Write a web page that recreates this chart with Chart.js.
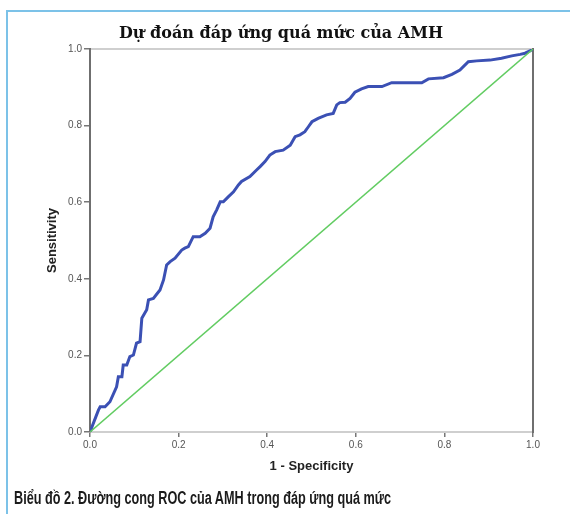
<!DOCTYPE html>
<html>
<head>
<meta charset="utf-8">
<script src="https://cdn.jsdelivr.net/npm/chart.js@4"></script>
<style>
  html, body { margin:0; padding:0; background:#fff; }
  body { width:570px; height:514px; position:relative; overflow:hidden; }
  #frame { position:absolute; left:6px; top:10px; right:-4px; bottom:-4px;
           border-left:2px solid #7cc2e8; border-top:2px solid #7cc2e8; }
  #c { position:absolute; left:0; top:0; }
  #caption { position:absolute; left:14px; top:489px; white-space:nowrap;
             font-family:"Liberation Sans Narrow","Liberation Sans",Arial,sans-serif;
             font-weight:bold; font-size:18px; line-height:18px; color:#1b1b1b;
             transform-origin:0 0; }
</style>
</head>
<body>
<div id="frame"></div>
<canvas id="c" width="570" height="514"></canvas>
<div id="caption">Biểu đồ 2. Đường cong ROC của AMH trong đáp ứng quá mức</div>
<script>
// ---- data ----
const titleText = "Dự đoán đáp ứng quá mức của AMH";
const xAxisTitle = "1 - Specificity";
const yAxisTitle = "Sensitivity";
const tickValues = [0, 0.2, 0.4, 0.6, 0.8, 1.0];
const tickLabels = ["0.0", "0.2", "0.4", "0.6", "0.8", "1.0"];

// ROC curve: 1 - specificity (x) and sensitivity (y)
const fpr = [0, 0.019, 0.023, 0.034, 0.045, 0.060, 0.064, 0.072, 0.075, 0.083, 0.090, 0.098, 0.105, 0.113, 0.117, 0.128, 0.132, 0.143, 0.158, 0.166, 0.173, 0.181, 0.192, 0.207, 0.214, 0.222, 0.233, 0.248, 0.260, 0.271, 0.278, 0.286, 0.294, 0.301, 0.312, 0.324, 0.335, 0.342, 0.361, 0.376, 0.384, 0.395, 0.406, 0.418, 0.436, 0.452, 0.463, 0.474, 0.485, 0.493, 0.501, 0.515, 0.534, 0.549, 0.557, 0.564, 0.576, 0.587, 0.598, 0.613, 0.628, 0.659, 0.681, 0.749, 0.764, 0.798, 0.817, 0.835, 0.854, 0.873, 0.903, 0.929, 0.952, 0.971, 0.982, 0.993, 1];
const tpr = [0, 0.057, 0.066, 0.066, 0.079, 0.118, 0.144, 0.144, 0.175, 0.175, 0.197, 0.201, 0.232, 0.236, 0.297, 0.319, 0.345, 0.349, 0.371, 0.397, 0.436, 0.445, 0.454, 0.475, 0.480, 0.484, 0.510, 0.510, 0.519, 0.532, 0.562, 0.580, 0.601, 0.601, 0.614, 0.627, 0.645, 0.654, 0.667, 0.684, 0.693, 0.706, 0.723, 0.732, 0.736, 0.749, 0.771, 0.776, 0.784, 0.797, 0.810, 0.819, 0.828, 0.832, 0.854, 0.860, 0.861, 0.871, 0.887, 0.896, 0.902, 0.902, 0.912, 0.912, 0.922, 0.925, 0.934, 0.945, 0.967, 0.969, 0.971, 0.976, 0.982, 0.986, 0.989, 0.995, 1];

// reference (chance) line
const refX = [0, 1];
const refY = [0, 1];

// ---- chart ----
const rocPoints = fpr.map((x, i) => ({ x: x, y: tpr[i] }));
const refPoints = refX.map((x, i) => ({ x: x, y: refY[i] }));
const labelFor = v => {
  const i = tickValues.findIndex(t => Math.abs(t - v) < 1e-6);
  return i >= 0 ? tickLabels[i] : "";
};
const tickFont = { family: "'Liberation Sans', Arial, sans-serif", size: 10 };
const axisTitleFont = { family: "'Liberation Sans', Arial, sans-serif", size: 13, weight: "bold" };

new Chart(document.getElementById("c"), {
  type: "line",
  data: {
    datasets: [
      { data: refPoints, borderColor: "#62cc62", borderWidth: 1.5, pointRadius: 0, tension: 0, order: 0 },
      { data: rocPoints, borderColor: "#3b50b4", borderWidth: 3, pointRadius: 0, tension: 0, order: 1 }
    ]
  },
  options: {
    responsive: false,
    animation: false,
    devicePixelRatio: 1,
    layout: { padding: { left: 0, right: 8, top: 0, bottom: 40 } },
    plugins: {
      legend: { display: false },
      tooltip: { enabled: false },
      title: {
        display: true,
        text: titleText,
        color: "#111",
        font: { family: "'DejaVu Serif', 'Liberation Serif', serif", size: 16, weight: "bold", lineHeight: 1.2 },
        padding: { top: 24, bottom: 5.8 }
      }
    },
    scales: {
      x: {
        type: "linear", position: "bottom", min: 0, max: 1,
        afterFit: s => { s.height = 42; },
        ticks: { stepSize: 0.2, callback: labelFor, color: "#555", font: tickFont, padding: 2, maxRotation: 0 },
        grid: { drawOnChartArea: false, drawTicks: true, tickLength: 5, color: "#777", lineWidth: 1.5 },
        border: { display: true, color: "#cfcfcf", width: 2 },
        title: { display: true, text: xAxisTitle, color: "#222", font: axisTitleFont, padding: { top: 0, bottom: 0.2 } }
      },
      x2: {
        type: "linear", position: "top", min: 0, max: 1,
        afterFit: s => { s.height = 0; },
        ticks: { display: false },
        grid: { display: false, drawTicks: false },
        border: { display: true, color: "#cfcfcf", width: 2 }
      },
      y: {
        type: "linear", position: "left", min: 0, max: 1,
        afterFit: s => { s.width = 90; },
        ticks: { stepSize: 0.2, callback: labelFor, color: "#555", font: tickFont, padding: 2 },
        grid: { drawOnChartArea: false, drawTicks: true, tickLength: 6, color: "#777", lineWidth: 1.5 },
        border: { display: true, color: "#6f6f6f", width: 2 },
        title: { display: true, text: yAxisTitle, color: "#222", font: axisTitleFont, padding: { top: 44.2, bottom: 0 } }
      },
      y2: {
        type: "linear", position: "right", min: 0, max: 1,
        afterFit: s => { s.width = 29; },
        ticks: { display: false },
        grid: { display: false, drawTicks: false },
        border: { display: true, color: "#6f6f6f", width: 2 }
      }
    }
  }
});

// fit the condensed caption to its width in the reference
const cap = document.getElementById("caption");
const w = cap.getBoundingClientRect().width;
cap.style.transform = "scaleX(" + (377 / w) + ")";
</script>
</body>
</html>
